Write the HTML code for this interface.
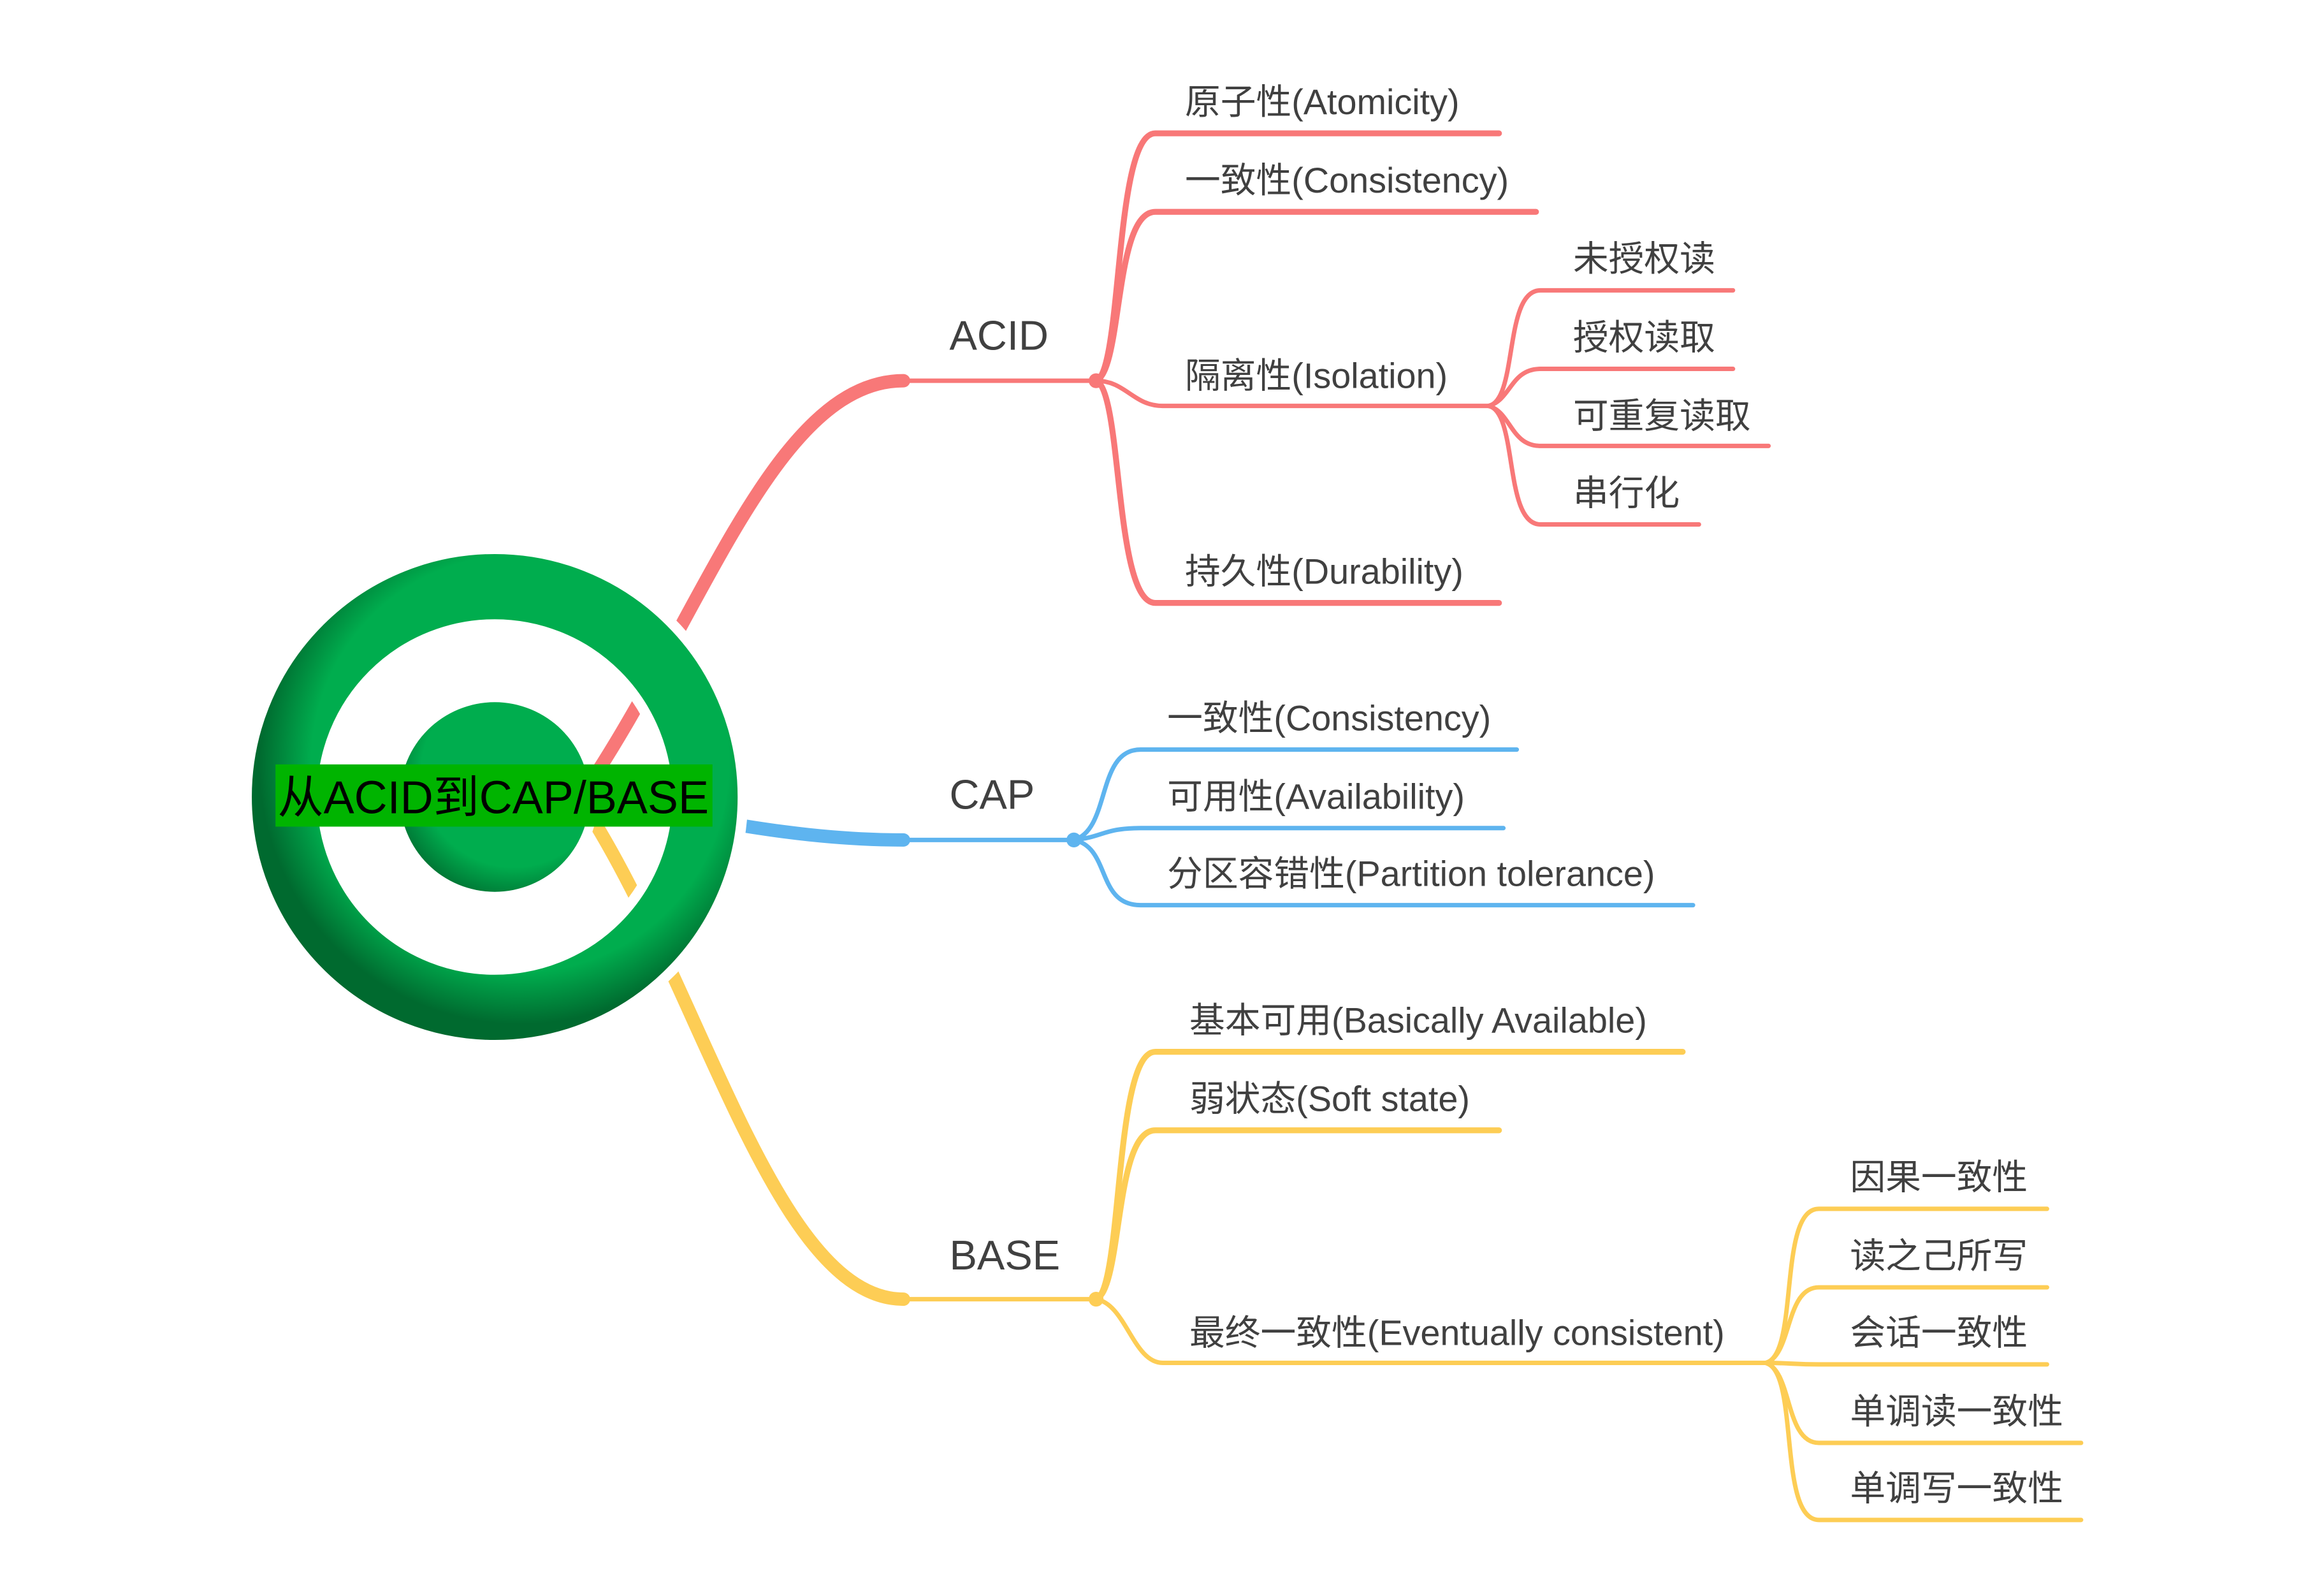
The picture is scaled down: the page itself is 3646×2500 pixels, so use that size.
<!DOCTYPE html>
<html><head><meta charset="utf-8"><style>
html,body{margin:0;padding:0;background:#fff}
svg{display:block}
text{font-family:"Liberation Sans","Noto Sans CJK SC",sans-serif;fill:#404040;font-size:24px}
</style></head><body>
<svg width="3646" height="2500" viewBox="0 0 1569 1076" preserveAspectRatio="none" xmlns="http://www.w3.org/2000/svg">
<defs>
<radialGradient id="rg" cx="0.56" cy="0.42" r="0.62">
<stop offset="0.8" stop-color="#00ad4e"/><stop offset="1" stop-color="#006a2f"/>
</radialGradient>
<radialGradient id="rg2" cx="0.6" cy="0.38" r="0.7">
<stop offset="0.7" stop-color="#00ad4e"/><stop offset="1" stop-color="#006a2f"/>
</radialGradient>
</defs>
<g fill="none" stroke-linecap="round">
<path d="M385,548 C470,430 520,257 610,257" stroke="#f87878" stroke-width="9"/>
<path d="M385,538 C450,545 520,567 610,567" stroke="#5eb4ef" stroke-width="9"/>
<path d="M385,530 C470,650 520,877 610,877" stroke="#fdcd55" stroke-width="9"/>
<path d="M606,257 L740,257" stroke="#f87878" stroke-width="3"/>
<path d="M606,567 L725,567" stroke="#5eb4ef" stroke-width="3"/>
<path d="M606,877 L740,877" stroke="#fdcd55" stroke-width="3"/>
</g>
<circle cx="334" cy="538" r="142" fill="none" stroke="#fff" stroke-width="58"/>
<circle cx="334" cy="538" r="142" fill="none" stroke="url(#rg)" stroke-width="44"/>
<circle cx="334" cy="538" r="70" fill="#fff"/>
<circle cx="334" cy="538" r="64" fill="url(#rg2)"/>
<rect x="186" y="516" width="295" height="42" fill="#00b400"/>
<text x="333" y="549" text-anchor="middle" style="font-size:31px;fill:#000">从ACID到CAP/BASE</text>

<g fill="none" stroke-width="3" stroke-linecap="round">
<g stroke="#f87878">
<path d="M740,257 C758,250 752,90 780,90 L1012,90" stroke-width="4"/>
<path d="M740,257 C758,250 752,143 780,143 L1037,143" stroke-width="4"/>
<path d="M740,257 C760,257 765,274 785,274 L1005,274"/>
<path d="M740,257 C758,264 752,407 780,407 L1012,407" stroke-width="4"/>
<path d="M1005,274 C1025,270 1015,196 1040,196 L1170,196"/>
<path d="M1005,274 C1020,270 1020,249 1040,249 L1170,249"/>
<path d="M1005,274 C1020,278 1020,301 1040,301 L1194,301"/>
<path d="M1005,274 C1025,278 1015,354 1040,354 L1147,354"/>
</g>
<circle cx="740" cy="257" r="5" fill="#f87878" stroke="none"/>
<g stroke="#5eb4ef">
<path d="M725,567 C750,560 740,506 770,506 L1024,506"/>
<path d="M725,567 C745,565 745,559 770,559 L1015,559"/>
<path d="M725,567 C750,572 740,611 770,611 L1143,611"/>
</g>
<circle cx="725" cy="567" r="5" fill="#5eb4ef" stroke="none"/>
<g stroke="#fdcd55">
<path d="M740,877 C758,870 752,710 780,710 L1136,710" stroke-width="4"/>
<path d="M740,877 C758,870 752,763 780,763 L1012,763" stroke-width="4"/>
<path d="M740,877 C760,880 765,920 785,920 L1192,920"/>
<path d="M1192,920 C1215,915 1200,816 1228,816 L1382,816"/>
<path d="M1192,920 C1210,915 1205,869 1228,869 L1382,869"/>
<path d="M1192,920 C1210,920 1210,921 1228,921 L1382,921"/>
<path d="M1192,920 C1210,925 1205,974 1228,974 L1405,974"/>
<path d="M1192,920 C1215,925 1200,1026 1228,1026 L1405,1026"/>
</g>
<circle cx="740" cy="877" r="5" fill="#fdcd55" stroke="none"/>
</g>

<text x="641" y="236" style="font-size:28px">ACID</text>
<text x="641" y="546" style="font-size:28px">CAP</text>
<text x="641" y="857" style="font-size:28px">BASE</text>

<text x="800" y="77">原子性(Atomicity)</text>
<text x="800" y="130">一致性(Consistency)</text>
<text x="800" y="262">隔离性(Isolation)</text>
<text x="800" y="394">持久性(Durability)</text>
<text x="1062" y="183">未授权读</text>
<text x="1062" y="236">授权读取</text>
<text x="1062" y="289">可重复读取</text>
<text x="1062" y="341">串行化</text>

<text x="788" y="493">一致性(Consistency)</text>
<text x="788" y="546">可用性(Availability)</text>
<text x="788" y="598">分区容错性(Partition tolerance)</text>

<text x="803" y="697">基本可用(Basically Available)</text>
<text x="803" y="750">弱状态(Soft state)</text>
<text x="803" y="908">最终一致性(Eventually consistent)</text>
<text x="1249" y="803">因果一致性</text>
<text x="1249" y="856">读之己所写</text>
<text x="1249" y="908">会话一致性</text>
<text x="1249" y="961">单调读一致性</text>
<text x="1249" y="1013">单调写一致性</text>
</svg>
</body></html>
